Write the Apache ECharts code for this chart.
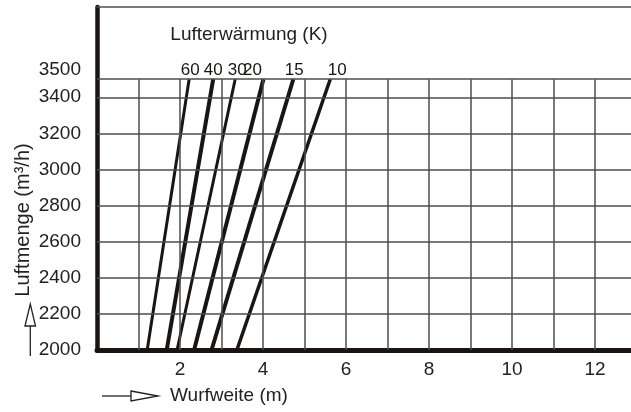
<!DOCTYPE html>
<html>
<head>
<meta charset="utf-8">
<script src="https://cdn.jsdelivr.net/npm/echarts@6/dist/echarts.min.js"></script>
<style>
  html, body { margin: 0; padding: 0; background: #ffffff; }
  #chart { width: 631px; height: 412px; }
</style>
</head>
<body>
<div id="chart"></div>
<script>
// ---- data ----
const heatK = ['60', '40', '30', '20', '15', '10'];          // Lufterwärmung (K)
const throwAt2000 = [1.21, 1.68, 1.93, 2.34, 2.76, 3.37];     // Wurfweite (m) at 2000 m³/h
const throwAt3500 = [2.22, 2.80, 3.33, 4.01, 4.73, 5.62];     // Wurfweite (m) at 3500 m³/h
const airflowLow = 2000;
const airflowHigh = 3500;
const xTickLabels = [2, 4, 6, 8, 10, 12];
const yTickLabels = [2000, 2200, 2400, 2600, 2800, 3000, 3200, 3400, 3500];
const xGridValues = [1, 2, 3, 4, 5, 6, 7, 8, 9, 10, 11, 12, 13];
const yGridValues = [2200, 2400, 2600, 2800, 3000, 3200, 3400, 3500];

// ---- styles ----
const ink = '#1a1414';
const gridColor = '#4d4d4d';
const font = "'Liberation Sans', Arial, sans-serif";
const lineWidths = [3, 4, 3, 4, 4, 3.5];
const labelDx = [1, 0, 2, -11, 1, 7];

const chart = echarts.init(document.getElementById('chart'), null, { renderer: 'canvas' });

const series = [];
// grid lines via markLine on a helper series
series.push({
  type: 'line',
  data: [],
  silent: true,
  z: 1,
  markLine: {
    silent: true,
    symbol: 'none',
    animation: false,
    label: { show: false },
    lineStyle: { color: gridColor, width: 1.5, type: 'solid' },
    emphasis: { disabled: true },
    data: [
      ...yGridValues.map(v => ({ yAxis: v })),
      ...xGridValues.map(v => [{ coord: [v, airflowLow] }, { coord: [v, airflowHigh] }])
    ]
  }
});

heatK.forEach((k, i) => {
  series.push({
    type: 'line',
    name: k,
    z: 3,
    symbol: 'circle',
    symbolSize: 1,
    showSymbol: true,
    itemStyle: { color: ink },
    lineStyle: { color: ink, width: lineWidths[i], cap: 'butt' },
    emphasis: { disabled: true },
    data: [
      [throwAt2000[i], airflowLow],
      {
        value: [throwAt3500[i], airflowHigh],
        label: {
          show: true,
          position: 'top',
          distance: 0,
          offset: [labelDx[i], 0],
          formatter: k,
          color: ink,
          fontFamily: "'Liberation Sans Narrow', 'Liberation Sans', Arial, sans-serif",
          fontSize: 17
        }
      }
    ]
  });
});

const option = {
  animation: false,
  backgroundColor: '#ffffff',
  grid: {
    left: 97,
    right: -5.5,
    top: 7,
    bottom: 62,
    containLabel: false,
    outerBoundsMode: 'none'
  },
  xAxis: [
    {
      type: 'value',
      min: 0,
      max: 13,
      interval: 1,
      position: 'bottom',
      axisLine: { show: true, onZero: false, lineStyle: { color: ink, width: 5 } },
      axisTick: { show: false },
      splitLine: { show: false },
      axisLabel: {
        margin: 10,
        color: '#222',
        fontFamily: font,
        fontSize: 19,
        formatter: v => (xTickLabels.includes(v) ? String(v) : '')
      }
    },
    {
      type: 'value',
      min: 0,
      max: 13,
      position: 'top',
      axisLine: { show: true, onZero: false, lineStyle: { color: gridColor, width: 1.5 } },
      axisTick: { show: false },
      axisLabel: { show: false },
      splitLine: { show: false }
    }
  ],
  yAxis: {
    type: 'value',
    min: 2000,
    max: 3900,
    interval: 100,
    axisLine: { show: true, onZero: false, lineStyle: { color: ink, width: 4.5 } },
    axisTick: { show: false },
    splitLine: { show: false },
    axisLabel: {
      margin: 16,
      color: '#222',
      fontFamily: font,
      fontSize: 19,
      lineHeight: 19,
      formatter: v => {
        if (!yTickLabels.includes(v)) return '';
        return v === 3500 ? '3500\n' : String(v);
      }
    }
  },
  graphic: [
    {
      type: 'text',
      x: 249, y: 35,
      style: {
        text: 'Lufterwärmung (K)',
        fill: '#222',
        font: "19px 'Liberation Sans', Arial, sans-serif",
        textAlign: 'center',
        textVerticalAlign: 'middle'
      }
    },
    {
      type: 'text',
      x: 170, y: 396,
      style: {
        text: 'Wurfweite (m)',
        fill: '#222',
        font: "19px 'Liberation Sans', Arial, sans-serif",
        textAlign: 'left',
        textVerticalAlign: 'middle'
      }
    },
    {
      type: 'text',
      x: 23, y: 220,
      rotation: Math.PI / 2,
      style: {
        text: 'Luftmenge (m³/h)',
        fill: '#222',
        font: "20px 'Liberation Sans', Arial, sans-serif",
        textAlign: 'center',
        textVerticalAlign: 'middle'
      }
    },
    // x-axis arrow
    {
      type: 'polyline',
      shape: { points: [[102, 396], [131, 396]] },
      style: { stroke: '#222', lineWidth: 1.3, fill: null }
    },
    {
      type: 'polygon',
      shape: { points: [[131, 391], [158, 396], [131, 401]] },
      style: { stroke: '#222', lineWidth: 1.3, fill: '#fff' }
    },
    // y-axis arrow
    {
      type: 'polyline',
      shape: { points: [[30.3, 326], [30.3, 356]] },
      style: { stroke: '#222', lineWidth: 1.3, fill: null }
    },
    {
      type: 'polygon',
      shape: { points: [[25, 326], [30.3, 304], [35.5, 326]] },
      style: { stroke: '#222', lineWidth: 1.3, fill: '#fff' }
    }
  ],
  series: series
};

chart.setOption(option);
</script>
</body>
</html>
